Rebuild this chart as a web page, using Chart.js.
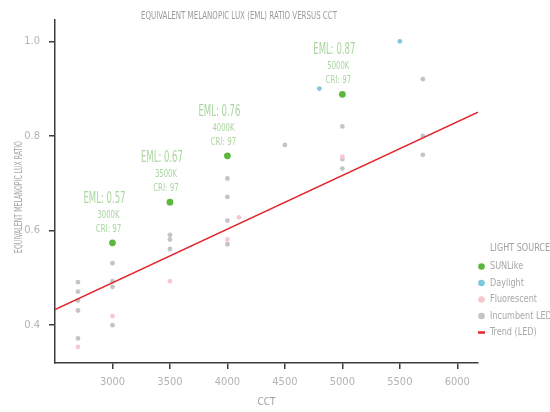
<!DOCTYPE html>
<html>
<head>
<meta charset="utf-8">
<script src="https://cdn.jsdelivr.net/npm/chart.js@4/dist/chart.umd.min.js"></script>
<style>
  html, body { margin: 0; padding: 0; background: #fff; }
  #emlChart { display: block; }
</style>
</head>
<body>
<canvas id="emlChart" width="550" height="412"></canvas>
<script>
// data
var sunlikeCct = [3000, 3500, 4000, 5000];
var sunlikeEml = [0.574, 0.66, 0.758, 0.888];
var sunlikeTag = ['0.57', '0.67', '0.76', '0.87'];
var sunlikeCri = [97, 97, 97, 97];

var daylightCct = [4800, 5500];
var daylightEml = [0.90, 1.00];

var fluorescentCct = [2700, 3000, 3500, 4000, 4100, 5000];
var fluorescentEml = [0.354, 0.419, 0.493, 0.581, 0.628, 0.756];

var ledCct = [2700, 2700, 2700, 2700, 2700, 3000, 3000, 3000, 3000, 3500, 3500, 3500,
              4000, 4000, 4000, 4000, 4500, 5000, 5000, 5000, 5700, 5700, 5700];
var ledEml = [0.491, 0.471, 0.452, 0.431, 0.372, 0.531, 0.493, 0.481, 0.40, 0.591, 0.581, 0.561,
              0.71, 0.671, 0.621, 0.571, 0.781, 0.82, 0.751, 0.731, 0.92, 0.80, 0.76];

var trendCct = [2500, 6180];
var trendEml = [0.433, 0.850];

var xTicks = [3000, 3500, 4000, 4500, 5000, 5500, 6000];
var yTicks = [0.4, 0.6, 0.8, 1.0];

var FONT = "'Liberation Sans Narrow', 'DejaVu Sans Condensed', 'Liberation Sans', sans-serif";
var TITLE = 'EQUIVALENT MELANOPIC LUX (EML) RATIO VERSUS CCT';
var Y_TITLE = 'EQUIVALENT MELANOPIC LUX RATIO';

function pairs(xs, ys) {
    return xs.map(function (v, i) { return { x: v, y: ys[i] }; });
}

// text squeezed to a given width, the reference uses a condensed face
function drawFit(ctx, text, cx, cy, size, color, width, rot) {
    ctx.save();
    ctx.font = size + 'px ' + FONT;
    ctx.fillStyle = color;
    ctx.textBaseline = 'middle';
    ctx.textAlign = 'center';
    var sx = Math.min(1, width / ctx.measureText(text).width);
    ctx.translate(cx, cy);
    if (rot) ctx.rotate(rot);
    ctx.scale(sx, 1);
    ctx.fillText(text, 0, 0);
    ctx.restore();
}

var overlay = {
    id: 'overlay',
    afterDraw: function (chart) {
        var ctx = chart.ctx;
        var x = chart.scales.x, y = chart.scales.y;

        drawFit(ctx, TITLE, 239, 16, 10, '#9a9a9a', 196);
        drawFit(ctx, Y_TITLE, 19, 197, 10, '#a6a6a6', 112, -Math.PI / 2);

        // SUNLike callouts
        sunlikeCct.forEach(function (c, i) {
            var px = x.getPixelForValue(c);
            var py = y.getPixelForValue(sunlikeEml[i]);
            drawFit(ctx, 'EML: ' + sunlikeTag[i], px - 8, py - 44, 15, '#a9d6a0', 42);
            drawFit(ctx, c + 'K', px - 4, py - 28, 11, '#a9d6a0', 22);
            drawFit(ctx, 'CRI: ' + sunlikeCri[i], px - 4, py - 14, 11, '#a9d6a0', 25.5);
        });

        // legend, runs off the right edge like the original
        ctx.save();
        ctx.font = '11px ' + FONT;
        var sx = Math.min(1, 47 / ctx.measureText('Fluorescent').width);
        ctx.restore();
        ctx.save();
        ctx.font = '11px ' + FONT;
        ctx.fillStyle = '#a0a0a0';
        ctx.textBaseline = 'middle';
        ctx.textAlign = 'left';
        ctx.translate(490, 248);
        ctx.scale(sx, 1);
        ctx.fillText('LIGHT SOURCE', 0, 0);
        ctx.restore();
        chart.data.datasets.forEach(function (ds, i) {
            var ly = 266.5 + i * 16.5;
            ctx.save();
            if (ds.type === 'line') {
                ctx.strokeStyle = ds.borderColor;
                ctx.lineWidth = 2.5;
                ctx.beginPath();
                ctx.moveTo(478, ly);
                ctx.lineTo(485, ly);
                ctx.stroke();
            } else {
                ctx.fillStyle = ds.backgroundColor;
                ctx.beginPath();
                ctx.arc(481.5, ly, 3.3, 0, Math.PI * 2);
                ctx.fill();
            }
            ctx.font = '11px ' + FONT;
            ctx.fillStyle = '#a8a8a8';
            ctx.textBaseline = 'middle';
            ctx.translate(490, ly);
            ctx.scale(sx, 1);
            ctx.fillText(ds.label, 0, 0);
            ctx.restore();
        });
    }
};

var axisColor = '#3c3c3c';
var tickFont = { family: FONT, size: 11 };

var emlChart = new Chart(document.getElementById('emlChart').getContext('2d'), {
    type: 'scatter',
    data: {
        datasets: [
            { label: 'SUNLike', data: pairs(sunlikeCct, sunlikeEml), backgroundColor: '#5cb83c', borderWidth: 0, pointRadius: 3.4, order: 1 },
            { label: 'Daylight', data: pairs(daylightCct, daylightEml), backgroundColor: '#7cc9dc', borderWidth: 0, pointRadius: 2.4, order: 2 },
            { label: 'Fluorescent', data: pairs(fluorescentCct, fluorescentEml), backgroundColor: '#f6c9d1', borderWidth: 0, pointRadius: 2.4, order: 3 },
            { label: 'Incumbent LED', data: pairs(ledCct, ledEml), backgroundColor: '#c4c4c4', borderWidth: 0, pointRadius: 2.4, order: 4 },
            { label: 'Trend (LED)', type: 'line', data: pairs(trendCct, trendEml), borderColor: '#e3242b', borderWidth: 1.5, pointRadius: 0, showLine: true, fill: false, order: 0 }
        ]
    },
    options: {
        responsive: false,
        animation: false,
        layout: { padding: { top: 20, right: 72, left: 0, bottom: 0 } },
        plugins: {
            legend: { display: false },
            tooltip: { enabled: false }
        },
        scales: {
            x: {
                type: 'linear',
                min: 2500,
                max: 6180,
                afterBuildTicks: function (s) { s.ticks = xTicks.map(function (v) { return { value: v }; }); },
                afterFit: function (s) { s.height = 49; },
                grid: { drawOnChartArea: false, drawTicks: true, tickLength: 6, color: axisColor, lineWidth: 1.5 },
                border: { display: true, color: axisColor, width: 1.5 },
                ticks: { color: '#b3b3b3', font: tickFont, padding: 7, maxRotation: 0, callback: function (v) { return String(v); } },
                title: { display: true, text: 'CCT', color: '#a0a0a0', font: { family: FONT, size: 10 }, padding: { top: 4, bottom: 4 } }
            },
            y: {
                type: 'linear',
                min: 0.32,
                max: 1.045,
                afterBuildTicks: function (s) { s.ticks = yTicks.map(function (v) { return { value: v }; }); },
                afterFit: function (s) { s.width = 55; },
                grid: { drawOnChartArea: false, drawTicks: true, tickLength: 6, color: axisColor, lineWidth: 1.5 },
                border: { display: true, color: axisColor, width: 1.5 },
                ticks: { color: '#b3b3b3', font: tickFont, padding: 9, callback: function (v) { return v.toFixed(1); } },
                title: { display: false }
            }
        }
    },
    plugins: [overlay]
});
</script>
</body>
</html>
